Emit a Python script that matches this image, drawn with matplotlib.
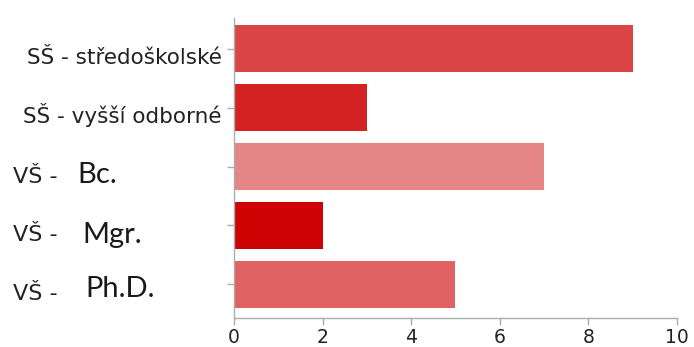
import numpy as np
import matplotlib
matplotlib.use('Agg')
import matplotlib.pyplot as plt

# data
kategorie_prefix = ['SŠ - středoškolské', 'SŠ - vyšší odborné', 'VŠ -', 'VŠ -', 'VŠ -']
kategorie_titul = ['', '', 'Bc.', 'Mgr.', 'Ph.D.']
pocty = [9, 3, 7, 2, 5]
barvy = ['#dc4545', '#d42222', '#e58585', '#cd0202', '#e06262']

fig = plt.figure(figsize=(6.94, 3.47), dpi=100)
ax = fig.add_axes([234 / 694, 1 - 318 / 347, 443 / 694, 300 / 347])

y = np.arange(len(pocty))
ax.barh(y, pocty, height=0.8, color=barvy)

ax.set_xlim(0, 10)
ax.set_ylim(4.57, -0.52)
ax.set_xticks([0, 2, 4, 6, 8, 10])
ax.set_yticks(y)
ax.set_yticklabels([''] * len(y))

for s in ['top', 'right']:
     ax.spines[s].set_visible(False)
for s in ['left', 'bottom']:
     ax.spines[s].set_color('#a8aeae')
     ax.spines[s].set_linewidth(1.0)
ax.tick_params(axis='both', colors='#a8aeae', length=5, width=1.0)
ax.tick_params(axis='x', labelcolor='#222222', labelsize=13.5, pad=2)

# popisky
for i in range(len(y)):
     if kategorie_titul[i] == '':
          ax.annotate(kategorie_prefix[i], xy=(0, y[i]), xycoords=('axes fraction', 'data'),
                      xytext=(-12, -15.5), textcoords='offset pixels',
                      ha='right', va='baseline', fontsize=15.5, color='#222222',
                      family='DejaVu Sans')
     else:
          ax.annotate(kategorie_prefix[i], xy=(0, y[i]), xycoords=('axes fraction', 'data'),
                      xytext=(-221, -16), textcoords='offset pixels',
                      ha='left', va='baseline', fontsize=16, color='#222222',
                      family='DejaVu Sans')
          dx = [-157, -152, -149][i - 2]
          dy = [-16.5, -17.5, -12.5][i - 2]
          ax.annotate(kategorie_titul[i], xy=(0, y[i]), xycoords=('axes fraction', 'data'),
                      xytext=(dx, dy), textcoords='offset pixels',
                      ha='left', va='baseline', fontsize=21, color='#1a1a1a',
                      family='Lato')

plt.savefig('out.png', dpi=100)
